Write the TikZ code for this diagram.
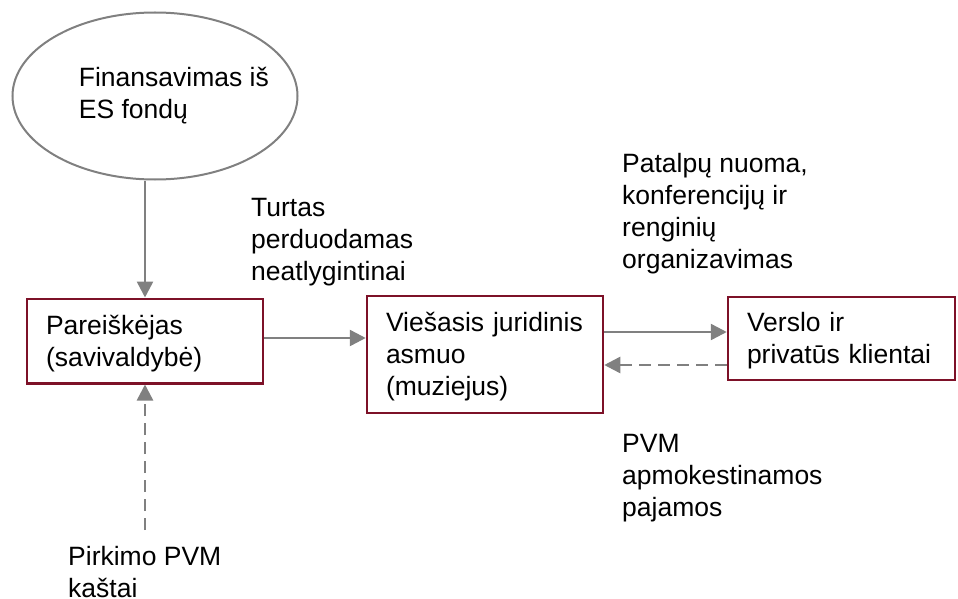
\documentclass[tikz,border=0pt]{standalone}
\usepackage{fontspec}
\setmainfont{Liberation Sans}
\usetikzlibrary{arrows.meta,shapes.geometric}
\definecolor{boxred}{HTML}{7D1128}
\definecolor{flowgray}{HTML}{808080}
% invisible strut giving each line the ascent and descent of the font
\newcommand\lnstrut{\rule[-0.212em]{0pt}{1.117em}}
\begin{document}
\begin{tikzpicture}[x=1pt,y=-1pt,
  every node/.style={font=\fontsize{26.5pt}{32pt}\selectfont},
  entity/.style={draw=boxred,line width=2.5pt,inner xsep=19pt,inner ysep=0pt,align=left},
  source/.style={ellipse,draw=flowgray,line width=2pt,minimum width=285pt,minimum height=167pt,inner sep=0pt},
  note/.style={anchor=north west,inner sep=0pt,align=left},
  flow/.style={draw=flowgray,line width=2.5pt,-{Triangle[length=16pt,width=16pt]}},
  vatflow/.style={flow,dash pattern=on 12pt off 7pt}]
\useasboundingbox (0,0) rectangle (958,599);

% funding source
\node[source] (src) at (155,96) {};
\node[note] (srctext) at (78.7,62) {\lnstrut Finansavimas iš\\ES fondų};

% parties
\node[entity,text width=198pt,minimum height=84.5pt] (b1) at (145,341)
  {\lnstrut Pareiškėjas\\\lnstrut(savivaldybė)};
\node[entity,text width=198pt,minimum height=117pt] (b2) at (485,354.5)
  {\lnstrut Viešasis juridinis\\\lnstrut asmuo\\\lnstrut(muziejus)};
\node[entity,text width=189pt,minimum height=83pt] (b3) at (841.5,338.5)
  {\lnstrut Verslo ir\\\lnstrut privatūs klientai};

% explanatory labels
\node[note] (turtas) at (251,192) {\lnstrut Turtas\\perduodamas\\neatlygintinai};
\node[note] (patalpos) at (622,148) {\lnstrut Patalpų nuoma,\\konferencijų ir\\renginių\\organizavimas};
\node[note] (pvm) at (622,428) {\lnstrut PVM\\apmokestinamos\\pajamos};
\node[note] (pirkimo) at (68,541) {\lnstrut Pirkimo PVM\\kaštai};
\coordinate (cost) at (145,530);

% flows
\draw[flow] (src.south -| b1.north) -- (b1.north);
\draw[flow] ([yshift=3pt]b1.east) -- ([yshift=16.5pt]b2.west);
\draw[flow] ([yshift=22.5pt]b2.east) -- ([yshift=6.5pt]b3.west);
\draw[vatflow] ([yshift=-26.5pt]b3.west) -- ([yshift=-10.5pt]b2.east);
\draw[vatflow] (cost) -- (b1.south);
\end{tikzpicture}
\end{document}
